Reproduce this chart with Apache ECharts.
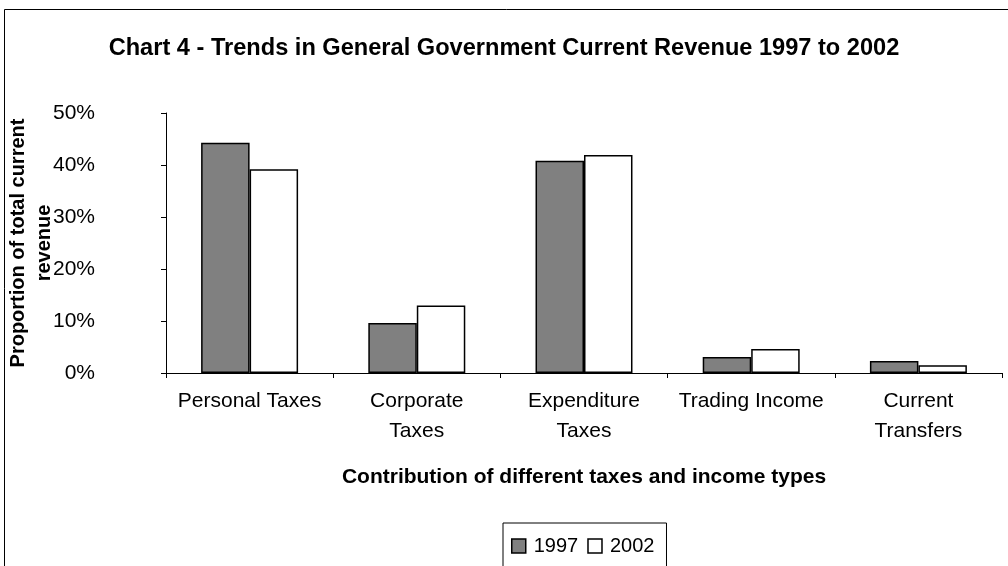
<!DOCTYPE html>
<html>
<head>
<meta charset="utf-8">
<script src="https://cdn.jsdelivr.net/npm/echarts@6/dist/echarts.min.js"></script>
<style>
    html, body { margin: 0; padding: 0; background: #fff; }
    #chart { width: 1008px; height: 566px; }
</style>
</head>
<body>
<div id="chart"></div>
<script>
// categories and values (percent of total current revenue)
const categories = ['Personal Taxes', 'Corporate\nTaxes', 'Expenditure\nTaxes', 'Trading Income', 'Current\nTransfers'];
const values1997 = [44.3, 9.6, 40.8, 3.1, 2.3];
const values2002 = [39.2, 13.0, 41.9, 4.6, 1.5];
const yTicks = [0, 10, 20, 30, 40, 50];

const font = 'Liberation Sans, Arial, sans-serif';
const chart = echarts.init(document.getElementById('chart'));

const option = {
    backgroundColor: '#fff',
    textStyle: { fontFamily: font, color: '#000' },
    title: {
        text: 'Chart 4 - Trends in General Government Current Revenue 1997 to 2002',
        left: 'center',
        top: 31,
        textStyle: { fontFamily: font, fontSize: 23.6, fontWeight: 'bold', color: '#000' }
    },
    graphic: [{
        type: 'rect',
        shape: { x: 4.5, y: 9.5, width: 1020, height: 620 },
        style: { fill: 'none', stroke: '#000', lineWidth: 1 },
        silent: true
    }],
    legend: {
        data: ['1997', '2002'],
        left: 503,
        top: 523,
        padding: [13, 12, 14, 8],
        itemGap: 9,
        itemWidth: 14,
        itemHeight: 14,
        icon: 'rect',
        borderColor: '#000',
        borderWidth: 1,
        itemStyle: { borderColor: '#000', borderWidth: 1.5 },
        textStyle: { fontFamily: font, fontSize: 20, color: '#000', padding: [0, 0, 0, 3] }
    },
    grid: { left: 166, right: 6, top: 113, bottom: 193, outerBoundsMode: 'none' },
    xAxis: {
        type: 'category',
        data: categories,
        name: 'Contribution of different taxes and income types',
        nameLocation: 'middle',
        nameGap: 94,
        nameMoveOverlap: false,
        nameTextStyle: { fontFamily: font, fontSize: 21, fontWeight: 'bold', color: '#000' },
        axisLine: { lineStyle: { color: '#000', width: 1 } },
        axisTick: { show: true, length: 5, lineStyle: { color: '#000' } },
        axisLabel: { fontFamily: font, fontSize: 21, color: '#000', margin: 13, lineHeight: 30, interval: 0 }
    },
    yAxis: {
        type: 'value',
        min: yTicks[0],
        max: yTicks[yTicks.length - 1],
        interval: 10,
        name: 'Proportion of total current\nrevenue',
        nameLocation: 'middle',
        nameGap: 109,
        nameMoveOverlap: false,
        nameRotate: 90,
        nameTextStyle: { fontFamily: font, fontSize: 20, fontWeight: 'bold', color: '#000', lineHeight: 26 },
        axisLine: { show: true, lineStyle: { color: '#000', width: 1 } },
        axisTick: { show: true, length: 5, lineStyle: { color: '#000' } },
        splitLine: { show: false },
        axisLabel: { fontFamily: font, fontSize: 21, color: '#000', margin: 71, align: 'right', formatter: '{value}%' }
    },
    series: [{
        name: '1997',
        type: 'bar',
        data: values1997,
        barGap: '0%',
        barCategoryGap: '42%',
        itemStyle: { color: '#808080', borderColor: '#000', borderWidth: 1.5 }
    }, {
        name: '2002',
        type: 'bar',
        data: values2002,
        barGap: '0%',
        barCategoryGap: '42%',
        itemStyle: { color: '#fff', borderColor: '#000', borderWidth: 1.5 }
    }]
};
chart.setOption(option);
</script>
</body>
</html>
